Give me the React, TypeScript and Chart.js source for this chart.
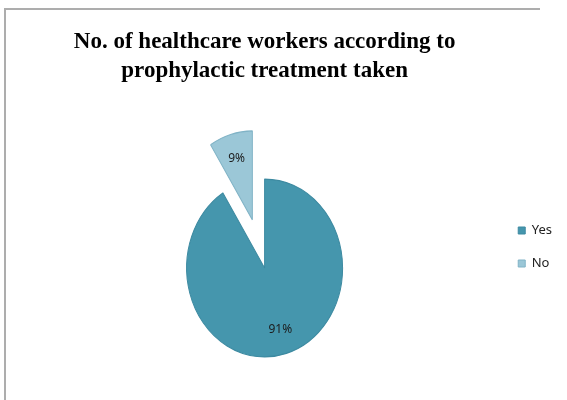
import React, { useEffect, useRef } from "react";
import { Chart, registerables } from "chart.js";

Chart.register(...registerables);

const categories = ["Yes", "No"];
const values = [91, 9];
const colors = ["#4596AD", "#9BC7D7"];
const borderColors = ["#3D8AA1", "#80B3C6"];
const offsets = [0, 44];
const titleLines = ["No. of healthcare workers according to", "prophylactic treatment taken"];

const SCALE_Y = 1.14;
const LABEL_POS = 0.72;

const framePlugin = {
  id: "frame",
  beforeDraw(chart: any) {
    const ctx = chart.ctx;
    ctx.save();
    ctx.fillStyle = "#fff";
    ctx.fillRect(0, 0, chart.width, chart.height);
    ctx.fillStyle = "#adadad";
    ctx.fillRect(4, 8, 536, 2);
    ctx.fillRect(4, 8, 2, chart.height - 8);
    ctx.restore();
  },
};

const ellipsePlugin = {
  id: "ellipsePie",
  beforeDatasetsDraw(chart: any) {
    const meta = chart.getDatasetMeta(0);
    const el0 = meta.data[0];
    if (!el0) return;
    meta.data.forEach((el: any) => {
      if (el.__patched) return;
      const orig = el.draw.bind(el);
      el.draw = (ctx: CanvasRenderingContext2D) => {
        const off = (el.options && el.options.offset) || 0;
        if (!off) return orig(ctx);
        const mid = (el.startAngle + el.endAngle) / 2;
        const saved = el.options;
        el.options = { ...saved, offset: 0 };
        ctx.save();
        ctx.translate(Math.cos(mid) * off, Math.sin(mid) * off);
        orig(ctx);
        ctx.restore();
        el.options = saved;
      };
      el.__patched = true;
    });
    const ctx = chart.ctx;
    ctx.save();
    ctx.translate(el0.x, el0.y);
    ctx.scale(1, SCALE_Y);
    ctx.translate(-el0.x, -el0.y);
  },
  afterDatasetsDraw(chart: any) {
    const meta = chart.getDatasetMeta(0);
    if (!meta.data[0]) return;
    const ctx = chart.ctx;
    ctx.restore();
    const data = chart.data.datasets[0].data as number[];
    const total = data.reduce((a, b) => a + b, 0);
    ctx.save();
    ctx.font = "12px 'Noto Sans'";
    ctx.fillStyle = "#1c1c1c";
    ctx.textAlign = "center";
    ctx.textBaseline = "middle";
    meta.data.forEach((arc: any, i: number) => {
      const off = (arc.options && arc.options.offset) || 0;
      const mid = (arc.startAngle + arc.endAngle) / 2;
      const d = off + LABEL_POS * arc.outerRadius;
      const x = arc.x + Math.cos(mid) * d;
      const y = arc.y + Math.sin(mid) * d * SCALE_Y;
      ctx.fillText(Math.round((data[i] / total) * 100) + "%", x, y);
    });
    ctx.restore();
  },
};

export default function App() {
  const ref = useRef<HTMLCanvasElement>(null);
  useEffect(() => {
    if (!ref.current) return;
    const chart = new Chart(ref.current, {
      type: "pie",
      data: {
        labels: categories,
        datasets: [
          {
            data: values,
            backgroundColor: colors,
            borderColor: borderColors,
            borderWidth: 1,
            offset: offsets,
            clip: false,
          } as any,
        ],
      },
      options: {
        responsive: false,
        animation: false,
        radius: 78,
        layout: { padding: { left: 31, right: 5, top: 0, bottom: 68 } },
        plugins: {
          title: {
            display: true,
            text: titleLines,
            fullSize: false,
            color: "#000",
            font: { family: "'Liberation Serif', 'Times New Roman', serif", size: 23, weight: "bold", lineHeight: "29px" as any },
            padding: { top: 28, bottom: 118 },
          },
          legend: {
            position: "right",
            align: "start",
            fullSize: false,
            labels: {
              boxWidth: 7,
              boxHeight: 7,
              padding: 20,
              color: "#222",
              font: { family: "'Noto Sans', sans-serif", size: 13 },
            },
          },
          tooltip: { enabled: false },
        },
      } as any,
      plugins: [framePlugin, ellipsePlugin],
    });
    return () => chart.destroy();
  }, []);
  return (
    <div style={{ position: "fixed", left: 0, top: 0, width: 567, height: 400, overflow: "hidden", background: "#fff" }}>
      <canvas ref={ref} width={567} height={400} style={{ position: "absolute", left: 0, top: 0 }} />
    </div>
  );
}
